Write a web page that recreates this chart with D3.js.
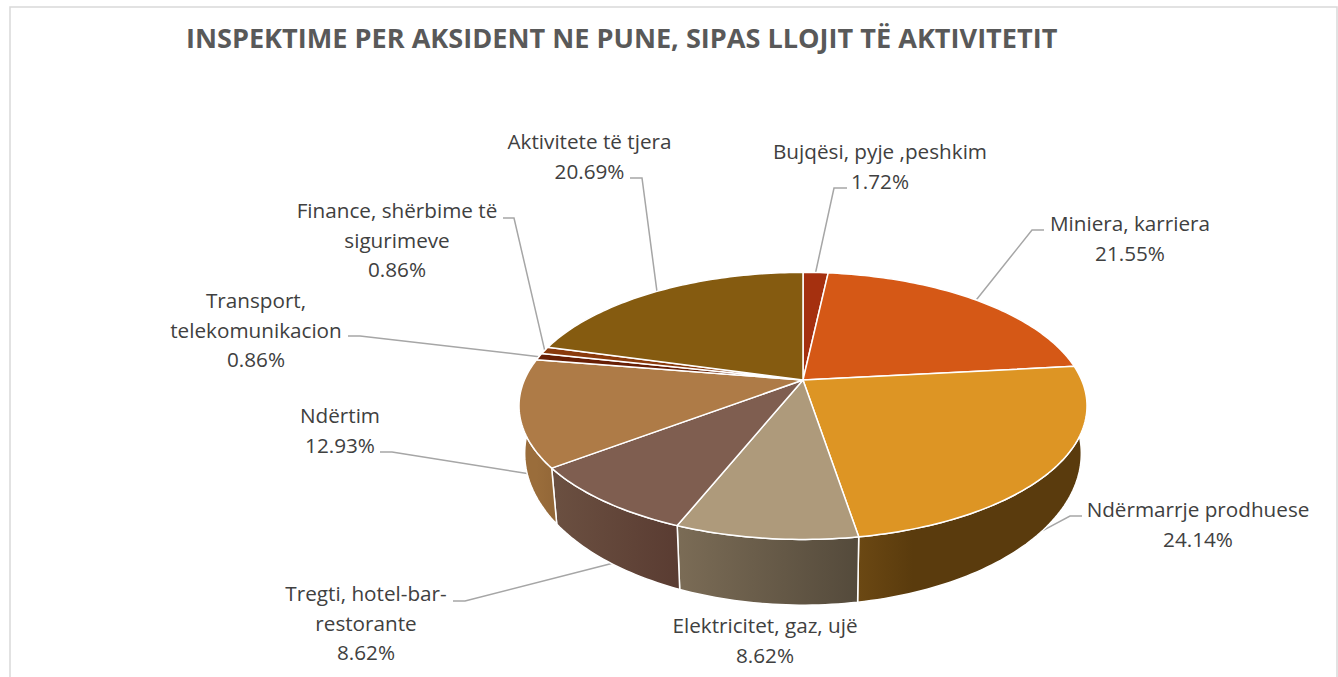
<!DOCTYPE html>
<html>
<head>
<meta charset="utf-8">
<script src="https://d3js.org/d3.v7.min.js"></script>
<style>
  html, body { margin: 0; padding: 0; background: #fff; overflow: hidden; }
  text { font-family: "Open Sans", sans-serif; }
</style>
</head>
<body>
<script>
// Chart data
const categories = ["Bujqësi, pyje ,peshkim", "Miniera, karriera", "Ndërmarrje prodhuese", "Elektricitet, gaz, ujë",
    "Tregti, hotel-bar-restorante", "Ndërtim", "Transport, telekomunikacion", "Finance, shërbime të sigurimeve", "Aktivitete të tjera"];
const values = [1.72, 21.55, 24.14, 8.62, 8.62, 12.93, 0.86, 0.86, 20.69];
const percentLabels = ["1.72%", "21.55%", "24.14%", "8.62%", "8.62%", "12.93%", "0.86%", "0.86%", "20.69%"];
const topColors = ["#a5300f", "#d55816", "#dd9524", "#ae9a7b", "#7f5e50", "#ae7b47", "#671f05", "#8a3a0c", "#855b10"];
const sideColorsLeft = ["#7a240b", "#9e4110", "#6b4813", "#7b6c56", "#6b5041", "#9a6d3b", "#4c1704", "#662b09", "#63440c"];
const sideColorsRight = ["#7a240b", "#9e4110", "#5a3b0d", "#544a3b", "#5a3c32", "#946838", "#4c1704", "#662b09", "#63440c"];
const sideFadeEnd = [1, 1, 0.25, 1, 1, 1, 1, 1, 1];
const title = "INSPEKTIME PER AKSIDENT NE PUNE, SIPAS LLOJIT TË AKTIVITETIT";

// label layout, same order as categories
const labelLines = [
    ["Bujqësi, pyje ,peshkim"], ["Miniera, karriera"], ["Ndërmarrje prodhuese"], ["Elektricitet, gaz, ujë"],
    ["Tregti, hotel-bar-", "restorante"], ["Ndërtim"], ["Transport,", "telekomunikacion"],
    ["Finance, shërbime të", "sigurimeve"], ["Aktivitete të tjera"]
];
const labelX = [880, 1130, 1198, 765, 366, 340, 256, 397, 589.5];
const labelY = [159, 231, 517, 633, 601, 423, 308, 218, 149];
const stubX = [847, 1044, 1082, null, 453, 380, 348, 503, 630];
const kneeX = [834, 1032, 1070, null, 465, 392, 360, 514, 642];
const kneeY = [188, 230, 516, null, 601, 452, 336, 218, 178];
const anchorDepth = [0, 0, 1, 0, 1, 1, 0, 0, 0];
const anchorShift = [0, 0, 2.5, 0, -1, -4.6, 0, 0, 0];

const w = 1338;
const h = 677;

// Perspective of the pie disc
const cx = 803, cy = 380;
const persp = 0.194, rx = 278.6, ryTop = 128.5, ryBottom = 146, drop = 44, shrink = 0.98;

function project(angle, t) {
    const sx = Math.sin(angle), yy = -Math.cos(angle);
    const d = 1 - persp * yy;
    const xTop = rx * sx / d;
    const xBot = xTop * shrink;
    const yTop = ryTop * yy / d;
    const yBot = drop + ryBottom * yy / d;
    return [cx + xTop + (xBot - xTop) * t, cy + yTop + (yBot - yTop) * t];
}

function arcAngles(a0, a1) {
    const n = Math.max(2, Math.ceil((a1 - a0) / 0.02));
    return d3.range(n + 1).map((i) => a0 + (a1 - a0) * i / n);
}

let svg = d3.select("body")
    .append("svg")
    .attr("width", w)
    .attr("height", h)
    .style("display", "block");

// Frame
svg.append("rect")
    .attr("x", 10).attr("y", 7)
    .attr("width", 1327).attr("height", 690)
    .attr("fill", "#fff")
    .attr("stroke", "#d9d9d9")
    .attr("stroke-width", 1.5);

svg.append("text")
    .attr("x", 186).attr("y", 48)
    .attr("font-size", 27.1)
    .attr("font-weight", 700)
    .attr("fill", "#595959")
    .text(title);

const pie = d3.pie().sort(null).value((d) => d);
const slices = pie(values);
const defs = svg.append("defs");
const line = d3.line();

// Leader lines go first so the pie hides their ends
svg.append("g")
    .selectAll("path")
    .data(slices.filter((d) => kneeX[d.index] !== null))
    .enter()
    .append("path")
    .attr("fill", "none")
    .attr("stroke", "#a6a6a6")
    .attr("stroke-width", 1.5)
    .attr("d", (d) => {
        const i = d.index;
        const mid = (d.startAngle + d.endAngle) / 2 + anchorShift[i] * Math.PI / 180;
        return line([[stubX[i], kneeY[i]], [kneeX[i], kneeY[i]], project(mid, anchorDepth[i])]);
    });

// Sides, only the part that faces the viewer
const sides = slices.filter((d) => d.endAngle > Math.PI / 2 - 0.2 && d.startAngle < Math.PI * 1.5 + 0.2);

sides.forEach((d) => {
    const a = project(d.startAngle, 0), b = project(d.endAngle, 0);
    const g = defs.append("linearGradient")
        .attr("id", "side" + d.index)
        .attr("gradientUnits", "userSpaceOnUse")
        .attr("x1", Math.min(a[0], b[0])).attr("x2", Math.max(a[0], b[0]))
        .attr("y1", 0).attr("y2", 0);
    g.append("stop").attr("offset", 0).attr("stop-color", sideColorsLeft[d.index]);
    g.append("stop").attr("offset", sideFadeEnd[d.index]).attr("stop-color", sideColorsRight[d.index]);
});

svg.append("g")
    .selectAll("path")
    .data(sides)
    .enter()
    .append("path")
    .attr("fill", (d) => "url(#side" + d.index + ")")
    .attr("stroke", "#fff")
    .attr("stroke-width", 1.5)
    .attr("stroke-linejoin", "round")
    .attr("d", (d) => {
        const angles = arcAngles(d.startAngle, d.endAngle);
        const upper = angles.map((a) => project(a, 0));
        const lower = angles.slice().reverse().map((a) => project(a, 1));
        return line(upper.concat(lower)) + "Z";
    });

// Top of the disc
svg.append("g")
    .selectAll("path")
    .data(slices)
    .enter()
    .append("path")
    .attr("fill", (d, i) => topColors[i])
    .attr("stroke", "#fff")
    .attr("stroke-width", 1.5)
    .attr("stroke-linejoin", "round")
    .attr("d", (d) => line([[cx, cy]].concat(arcAngles(d.startAngle, d.endAngle).map((a) => project(a, 0)))) + "Z");

// Labels
const labels = svg.append("g")
    .selectAll("text")
    .data(categories)
    .enter()
    .append("text")
    .attr("text-anchor", "middle")
    .attr("font-size", 20.7)
    .attr("fill", "#404040")
    .attr("transform", (d, i) => "translate(" + labelX[i] + "," + labelY[i] + ")");

labels.each(function (d, i) {
    const rows = labelLines[i].concat([percentLabels[i]]);
    d3.select(this).selectAll("tspan")
        .data(rows)
        .enter()
        .append("tspan")
        .attr("x", 0)
        .attr("y", (r, k) => k * 29.5)
        .text((r) => r);
});
</script>
</body>
</html>
